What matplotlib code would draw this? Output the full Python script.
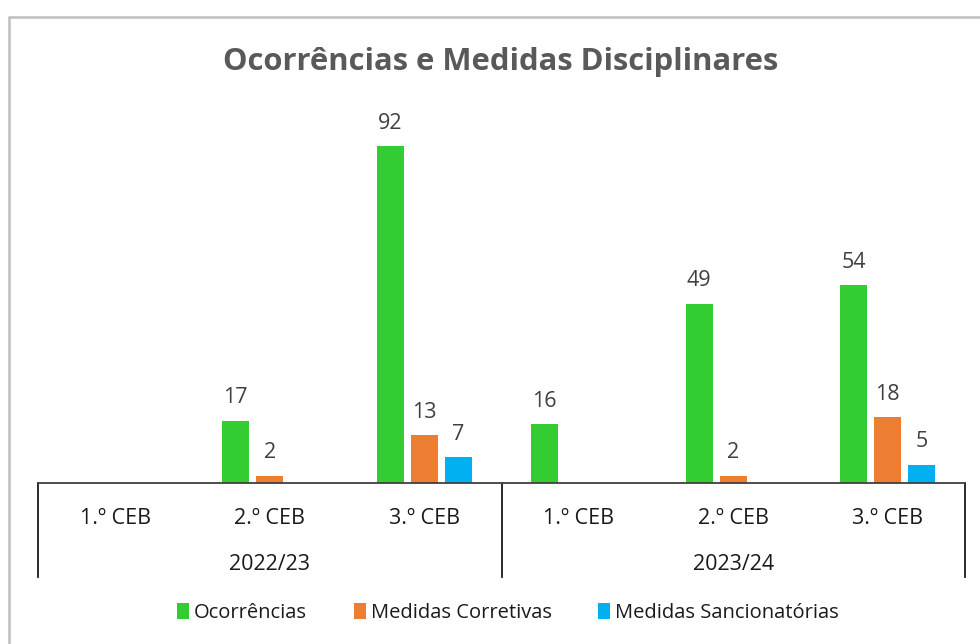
import matplotlib.pyplot as plt
import matplotlib.transforms as mtransforms
from matplotlib.patches import Rectangle
import numpy as np

plt.rcParams['font.family'] = ['Open Sans', 'DejaVu Sans']

categorias = ['1.º CEB', '2.º CEB', '3.º CEB', '1.º CEB', '2.º CEB', '3.º CEB']
anos = ['2022/23', '2023/24']
ocorrencias = [0, 17, 92, 16, 49, 54]
corretivas = [0, 2, 13, 0, 2, 18]
sancionatorias = [0, 0, 7, 0, 0, 5]

series = [('Ocorrências', ocorrencias, '#33CC33'),
          ('Medidas Corretivas', corretivas, '#ED7D31'),
          ('Medidas Sancionatórias', sancionatorias, '#00B0F0')]

W, H = 980, 644
fig = plt.figure(figsize=(W / 100, H / 100), dpi=100)
ax_h = 366.3
ax = fig.add_axes([38 / W, 161 / H, 927 / W, ax_h / H])

# chart border (cropped in the original)
fig.add_artist(Rectangle((9 / W, -0.1), 2, 1 - 17 / H + 0.1, transform=fig.transFigure,
                         fill=False, ec='#BFBFBF', lw=1.8))

x = np.arange(len(categorias))
bw = 27 / 154.5
step = 34 / 154.5
for i, (nome, vals, cor) in enumerate(series):
    pos = x + (i - 1) * step
    ax.bar(pos, vals, width=bw, color=cor, label=nome)
    for p, v in zip(pos, vals):
        if v > 0:
            ax.annotate(str(v), (p, v), xytext=(0, 12.5), textcoords='offset points',
                        ha='center', va='baseline', fontsize=15.5, color='#404040')

ax.set_xlim(-0.5, len(categorias) - 0.5)
ax.set_ylim(0, 100)
ax.set_yticks([])
for s in ['left', 'right', 'top']:
    ax.spines[s].set_visible(False)
ax.spines['bottom'].set_color('#404040')
ax.spines['bottom'].set_linewidth(1.3)

trans = mtransforms.blended_transform_factory(ax.transData, ax.transAxes)
ax.set_xticks(x)
ax.set_xticklabels([])
ax.tick_params(axis='x', length=0)
for xi, cat in zip(x, categorias):
    ax.text(xi, -35 / ax_h, cat, transform=trans, ha='center', va='center',
            fontsize=15.5, color='#1a1a1a')
for k, ano in enumerate(anos):
    ax.text(k * 3 + 1, -82 / ax_h, ano, transform=trans, ha='center', va='center',
            fontsize=15.5, color='#1a1a1a')
for b in [-0.5, 2.5, 5.5]:
    ax.plot([b, b], [0, -94 / ax_h], transform=trans, color='#1a1a1a', lw=1.3,
            clip_on=False)

fig.text(501 / W, 1 - 62 / H, 'Ocorrências e Medidas Disciplinares', ha='center',
         va='center', fontsize=22.3, fontweight='bold', color='#595959')

fig.legend(loc='center', bbox_to_anchor=(508 / W, 31 / H), ncol=3, frameon=False,
           fontsize=14.5, handlelength=0.6, handleheight=0.85, handletextpad=0.25,
           columnspacing=2.3, labelcolor='#1a1a1a')

fig.savefig('out.png', dpi=100, facecolor='white')
